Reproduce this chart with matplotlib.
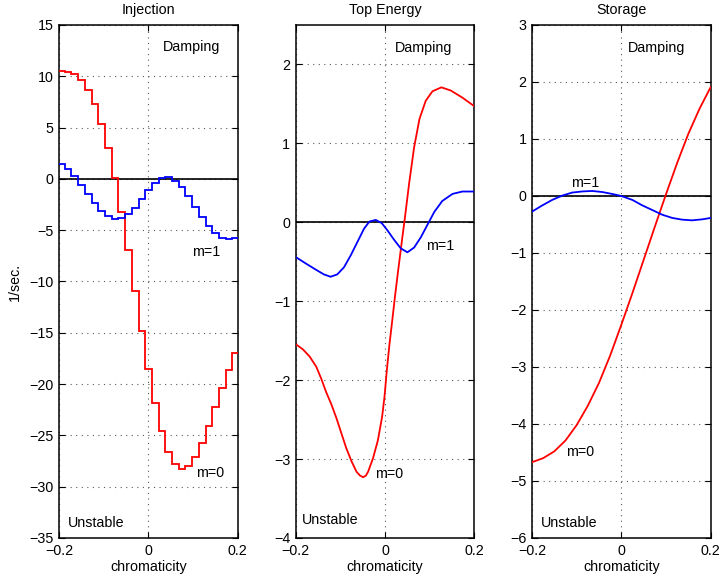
#!/usr/bin/env python3
import matplotlib

matplotlib.use("Agg")
import matplotlib.pyplot as plt

plt.rcParams["font.family"] = ["Liberation Sans", "DejaVu Sans"]
plt.rcParams["font.size"] = 10.3

TITLES = ["Injection", "Top Energy", "Storage"]

# Injection: stair-step data (segment edges and level per segment)
inj_edges = [-0.2, -0.187, -0.172, -0.157, -0.142, -0.127, -0.112, -0.097, -0.082,
             -0.067, -0.052, -0.037, -0.022, -0.007, 0.008, 0.023, 0.038, 0.053,
             0.068, 0.083, 0.098, 0.113, 0.128, 0.143, 0.158, 0.173, 0.188, 0.2]
inj_m0 = [10.56, 10.42, 10.2, 9.61, 8.63, 7.3, 5.39, 2.98, 0.05, -3.24, -6.9,
          -10.95, -14.78, -18.55, -21.87, -24.6, -26.6, -27.8, -28.3, -28.0,
          -27.07, -25.7, -24.05, -22.2, -20.37, -18.59, -16.93]
inj_m1 = [1.41, 0.93, 0.24, -0.63, -1.51, -2.36, -3.14, -3.63, -3.89, -3.82,
          -3.46, -2.81, -1.97, -1.12, -0.44, 0.08, 0.18, -0.24, -0.8, -1.68,
          -2.75, -3.76, -4.63, -5.29, -5.74, -5.87, -5.8]

# Top energy
top_m0_x = [-0.2, -0.184, -0.169, -0.154, -0.143, -0.132, -0.120, -0.109, -0.098,
            -0.087, -0.075, -0.064, -0.056, -0.049, -0.043, -0.038, -0.027, -0.016,
            -0.0065, -0.0013, 0.004, 0.010, 0.0135, 0.0224, 0.0284, 0.038, 0.044,
            0.054, 0.065, 0.077, 0.091, 0.106, 0.126, 0.147, 0.173, 0.2]
top_m0 = [-1.544, -1.61, -1.70, -1.83, -1.98, -2.15, -2.31, -2.48, -2.67, -2.86,
          -3.03, -3.16, -3.21, -3.23, -3.21, -3.16, -2.99, -2.76, -2.46, -2.21,
          -1.87, -1.535, -1.37, -0.93, -0.65, -0.22, 0.04, 0.50, 0.95, 1.31, 1.54,
          1.66, 1.71, 1.67, 1.58, 1.47]
top_m1_x = [-0.2, -0.178, -0.155, -0.137, -0.122, -0.107, -0.092, -0.077, -0.062,
            -0.047, -0.035, -0.021, -0.0075, 0.005, 0.020, 0.035, 0.050, 0.065,
            0.080, 0.095, 0.110, 0.128, 0.151, 0.173, 0.2]
top_m1 = [-0.44, -0.52, -0.60, -0.66, -0.69, -0.66, -0.57, -0.42, -0.25, -0.08,
          0.01, 0.03, -0.01, -0.10, -0.22, -0.33, -0.38, -0.32, -0.19, -0.03, 0.13,
          0.27, 0.36, 0.39, 0.39]

# Storage
sto_m0_x = [-0.2, -0.175, -0.15, -0.125, -0.1, -0.075, -0.05, -0.025, 0.0, 0.025,
            0.05, 0.075, 0.1, 0.125, 0.15, 0.175, 0.2]
sto_m0 = [-4.67, -4.60, -4.48, -4.29, -4.02, -3.68, -3.28, -2.80, -2.26, -1.70,
          -1.12, -0.54, 0.03, 0.58, 1.09, 1.53, 1.91]
sto_m1_x = [-0.2, -0.178, -0.155, -0.133, -0.11, -0.087, -0.065, -0.043, -0.02,
            0.0, 0.025, 0.047, 0.069, 0.092, 0.114, 0.136, 0.158, 0.181, 0.2]
sto_m1 = [-0.275, -0.17, -0.07, 0.005, 0.06, 0.08, 0.088, 0.07, 0.035, 0.0,
          -0.07, -0.165, -0.245, -0.33, -0.385, -0.415, -0.427, -0.41, -0.385]

YLIMS = [(-35, 15), (-4, 2.5), (-6, 3)]
YTICKS = [list(range(-35, 16, 5)), list(range(-4, 3)), list(range(-6, 4))]


def style_axis(ax, title, ylim, yticks):
    ax.set_xlim(-0.2, 0.2)
    ax.set_ylim(*ylim)
    ax.set_xticks([-0.2, 0, 0.2])
    ax.set_xticklabels(["\u22120.2", "0", "0.2"])
    ax.set_yticks(yticks)
    ax.set_yticklabels([f"{t}".replace("-", "\u2212") for t in yticks])
    ax.tick_params(direction="in", length=4, width=0.8, top=True, right=True)
    ax.tick_params(axis="x", pad=4.5)
    ax.tick_params(axis="y", pad=4)
    for sp in ax.spines.values():
        sp.set_linewidth(1.1)
    ax.grid(True, linestyle=(0, (1, 4)), color="0.35", linewidth=0.8)
    ax.axhline(0, color="k", linewidth=1.2, zorder=3)
    ax.set_title(title, pad=8, fontsize=10.3)
    ax.set_xlabel("chromaticity", labelpad=1)


fig = plt.figure(figsize=(7.22, 5.84), dpi=100)
lefts = [0.0817, 0.4096, 0.7368]
axes = [fig.add_axes([l, 0.0788, 0.2475, 0.8784]) for l in lefts]

ax1, ax2, ax3 = axes
ax1.stairs(inj_m0, inj_edges, color="r", linewidth=1.3, baseline=None, zorder=4)
ax1.stairs(inj_m1, inj_edges, color="b", linewidth=1.3, baseline=None, zorder=4)
ax2.plot(top_m0_x, top_m0, color="r", linewidth=1.3, zorder=4)
ax2.plot(top_m1_x, top_m1, color="b", linewidth=1.3, zorder=4)
ax3.plot(sto_m0_x, sto_m0, color="r", linewidth=1.3, zorder=4)
ax3.plot(sto_m1_x, sto_m1, color="b", linewidth=1.3, zorder=4)

for ax, title, ylim, yt in zip(axes, TITLES, YLIMS, YTICKS):
    style_axis(ax, title, ylim, yt)

ax1.set_ylabel("1/sec.", labelpad=5)

ax1.text(0.032, 12.85, "Damping", ha="left", va="center")
ax1.text(0.097, -7.15, "m=1", ha="left", va="center")
ax1.text(0.106, -28.7, "m=0", ha="left", va="center")
ax1.text(-0.18, -33.5, "Unstable", ha="left", va="center")

ax2.text(0.0224, 2.21, "Damping", ha="left", va="center")
ax2.text(0.092, -0.30, "m=1", ha="left", va="center")
ax2.text(-0.022, -3.19, "m=0", ha="left", va="center")
ax2.text(-0.186, -3.77, "Unstable", ha="left", va="center")

ax3.text(0.015, 2.6, "Damping", ha="left", va="center")
ax3.text(-0.113, 0.23, "m=1", ha="left", va="center")
ax3.text(-0.124, -4.5, "m=0", ha="left", va="center")
ax3.text(-0.18, -5.74, "Unstable", ha="left", va="center")

fig.savefig("out.png", dpi=100)
